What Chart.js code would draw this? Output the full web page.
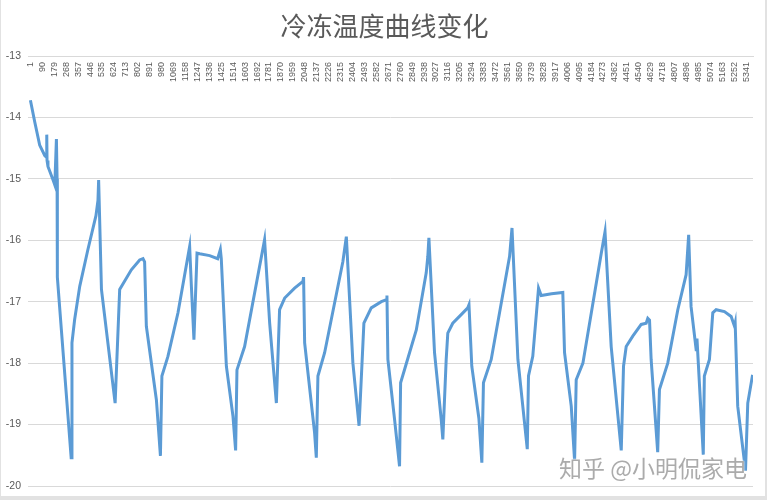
<!DOCTYPE html>
<html>
<head>
<meta charset="utf-8">
<script src="https://cdn.jsdelivr.net/npm/chart.js@4"></script>
<style>
  body { margin: 0; background: #e2e2e2; }
  #frame {
    position: absolute; left: 1px; top: 0; width: 764px; height: 496px;
    background: #fff;
  }
  #chart { position: absolute; left: -1px; top: 0; }
  #title {
    position: absolute; left: 0; top: 6px; width: 767px; text-align: center;
    font: 26px "Noto Sans CJK SC", sans-serif; color: #595959;
  }
  #mark {
    position: absolute; left: 558px; top: 450px;
    font: 23px "Noto Sans CJK SC", sans-serif; color: rgba(150, 150, 150, 0.8);
    text-shadow: 0 0 2px #fff, 0 0 1px #fff; white-space: nowrap;
  }
</style>
</head>
<body>
<div id="frame">
  <canvas id="chart" width="767" height="500"></canvas>
  <div id="title">冷冻温度曲线变化</div>
  <div id="mark">知乎 @小明侃家电</div>
</div>
<script>
// sample number (x) and freezer temperature (y), turning points
var sampleNo = [
  1, 33, 70, 108, 121, 123, 125, 132, 170, 183, 195, 200, 202, 232, 305,
  311, 331, 369, 430, 490, 505, 510, 531, 633,
  667, 754, 816, 841, 853, 866, 941, 971,
  982, 1027, 1102, 1189, 1202, 1221,
  1244, 1264, 1338, 1398, 1418, 1425, 1463, 1512, 1532,
  1542, 1599, 1748, 1786, 1836,
  1860, 1898, 1972, 2034, 2039, 2047, 2121, 2134,
  2146, 2196, 2332, 2358, 2407, 2453,
  2489, 2544, 2619, 2656, 2661, 2668, 2718, 2755,
  2763, 2793, 2880, 2954, 2966, 2974, 3016, 3066, 3078,
  3103, 3115, 3152, 3215, 3264, 3273, 3294, 3347, 3369,
  3381, 3439, 3576, 3594, 3638, 3708,
  3717, 3749, 3787, 3792, 3812, 3889, 3973, 3986, 4036, 4061,
  4073, 4123, 4260, 4288, 4334, 4409,
  4426, 4446, 4495, 4558, 4595, 4607, 4620, 4632, 4681,
  4694, 4756, 4831, 4893, 4912, 4930, 4968, 4974, 5021,
  5029, 5067, 5092, 5117, 5179, 5229, 5254, 5259, 5278, 5336,
  5353, 5389
];
var tempC = [
  -13.72, -14.07, -14.45, -14.62, -14.65, -14.28, -14.7, -14.8, -15.02, -15.1, -14.35, -15.0, -16.6, -17.46, -19.54,
  -17.67, -17.29, -16.75, -16.15, -15.6, -15.35, -15.02, -16.8, -18.65,
  -16.8, -16.48, -16.32, -16.3, -16.35, -17.4, -18.6, -19.51,
  -18.21, -17.89, -17.18, -16.1, -16.75, -17.62,
  -16.21, -16.22, -16.25, -16.3, -16.15, -16.3, -18.05, -18.86, -19.42,
  -18.11, -17.73, -15.99, -17.35, -18.65,
  -17.13, -16.94, -16.78, -16.67, -16.6, -17.67, -19.13, -19.54,
  -18.21, -17.83, -16.35, -15.94, -18.0, -19.02,
  -17.35, -17.1, -17.0, -16.97, -16.9, -17.94, -18.92, -19.68,
  -18.32, -18.1, -17.46, -16.53, -16.26, -15.96, -17.83, -18.92, -19.24,
  -17.94, -17.51, -17.35, -17.21, -17.1, -17.05, -18.05, -18.9, -19.62,
  -18.32, -17.94, -16.26, -15.8, -17.94, -19.4,
  -18.21, -17.89, -16.91, -16.78, -16.9, -16.87, -16.85, -17.83, -18.7, -19.59,
  -18.27, -18.0, -16.21, -15.86, -17.73, -19.42,
  -18.05, -17.73, -17.56, -17.37, -17.35, -17.27, -17.3, -17.94, -19.45,
  -18.43, -18.0, -17.13, -16.56, -15.91, -17.08, -17.78, -17.6, -19.49,
  -18.21, -17.94, -17.18, -17.13, -17.16, -17.24, -17.4, -17.35, -18.7, -19.75,
  -18.65, -18.19
];
var xTickLabels = [
  1, 90, 179, 268, 357, 446, 535, 624, 713, 802, 891, 980, 1069, 1158, 1247,
  1336, 1425, 1514, 1603, 1692, 1781, 1870, 1959, 2048, 2137, 2226, 2315, 2404,
  2493, 2582, 2671, 2760, 2849, 2938, 3027, 3116, 3205, 3294, 3383, 3472, 3561,
  3650, 3739, 3828, 3917, 4006, 4095, 4184, 4273, 4362, 4451, 4540, 4629, 4718,
  4807, 4896, 4985, 5074, 5163, 5252, 5341
];
var yTicks = [-20, -19, -18, -17, -16, -15, -14, -13];

var points = sampleNo.map(function(n, i) {
  return { x: n, y: tempC[i] };
});

var gridGray = '#d9d9d9';
var textGray = '#595959';

new Chart(document.getElementById('chart').getContext('2d'), {
  type: 'line',
  data: {
    datasets: [{
      data: points,
      borderColor: '#5b9bd5',
      borderWidth: 3,
      pointRadius: 0,
      tension: 0,
      fill: false
    }]
  },
  options: {
    responsive: false,
    animation: false,
    layout: { padding: { left: 0, top: 56, right: 14, bottom: 14 } },
    plugins: {
      legend: { display: false },
      tooltip: { enabled: false }
    },
    scales: {
      x: {
        type: 'linear',
        position: { y: -13 },
        min: -17,
        max: 5392,
        afterBuildTicks: function(scale) {
          scale.ticks = xTickLabels.map(function(v) { return { value: v }; });
        },
        grid: { display: false, drawTicks: false },
        border: { display: true, color: gridGray, width: 1 },
        ticks: {
          autoSkip: false,
          minRotation: 90,
          maxRotation: 90,
          padding: 6,
          color: textGray,
          font: { family: 'Liberation Sans', size: 9 },
          callback: function(v) { return String(v); }
        }
      },
      y: {
        min: -20,
        max: -13,
        afterBuildTicks: function(scale) {
          scale.ticks = yTicks.map(function(v) { return { value: v }; });
        },
        afterFit: function(scale) { scale.width = 28; },
        grid: { color: gridGray, lineWidth: 1, drawTicks: false },
        border: { display: false },
        ticks: {
          padding: 7,
          color: textGray,
          font: { family: 'Liberation Sans', size: 10.5 }
        }
      }
    }
  }
});
</script>
</body>
</html>
